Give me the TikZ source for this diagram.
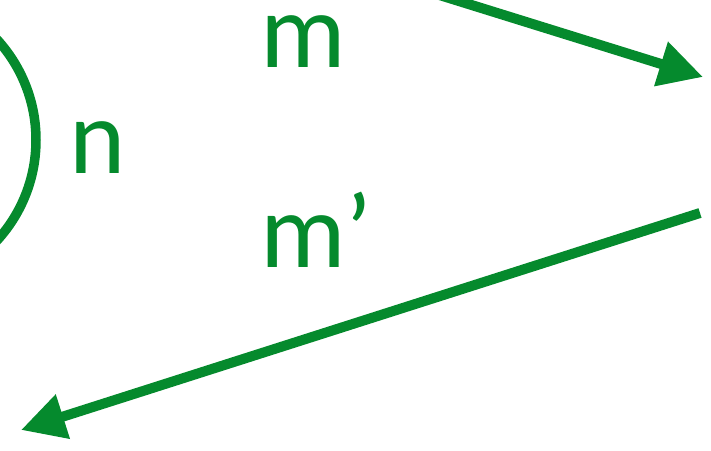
\documentclass[tikz,border=0pt]{standalone}
\usepackage{fontspec}
\setmainfont{Carlito}
\usetikzlibrary{arrows.meta}
\definecolor{grn}{RGB}{5,138,45}
\tikzset{
  conn/.style={draw=grn, line width=10pt, -{Triangle[length=44pt,width=44pt]}},
  lbl/.style={text=grn, inner sep=0pt, anchor=base west, text height=55pt, text depth=0pt, font=\fontsize{107}{107}\selectfont}
}
\begin{document}
\begin{tikzpicture}[x=1pt,y=-1pt]
\useasboundingbox (0,0) rectangle (711,450);
\begin{scope}
\clip (0,0) rectangle (711,450);
\draw[grn, line width=9.5pt] (-113,140) circle (149);
\coordinate (a1s) at (433,-7);
\end{scope}
\coordinate (a1e) at (703,77);
\coordinate (a2s) at (700,213);
\coordinate (a2e) at (21,430);
\node[lbl] (m) at (260,67) {m};
\node[lbl] (n) at (69,173) {n};
\node[lbl] (mp) at (260,267) {m’};
\draw[conn] (a1s) -- (a1e);
\draw[conn] (a2s) -- (a2e);
\end{tikzpicture}
\end{document}
